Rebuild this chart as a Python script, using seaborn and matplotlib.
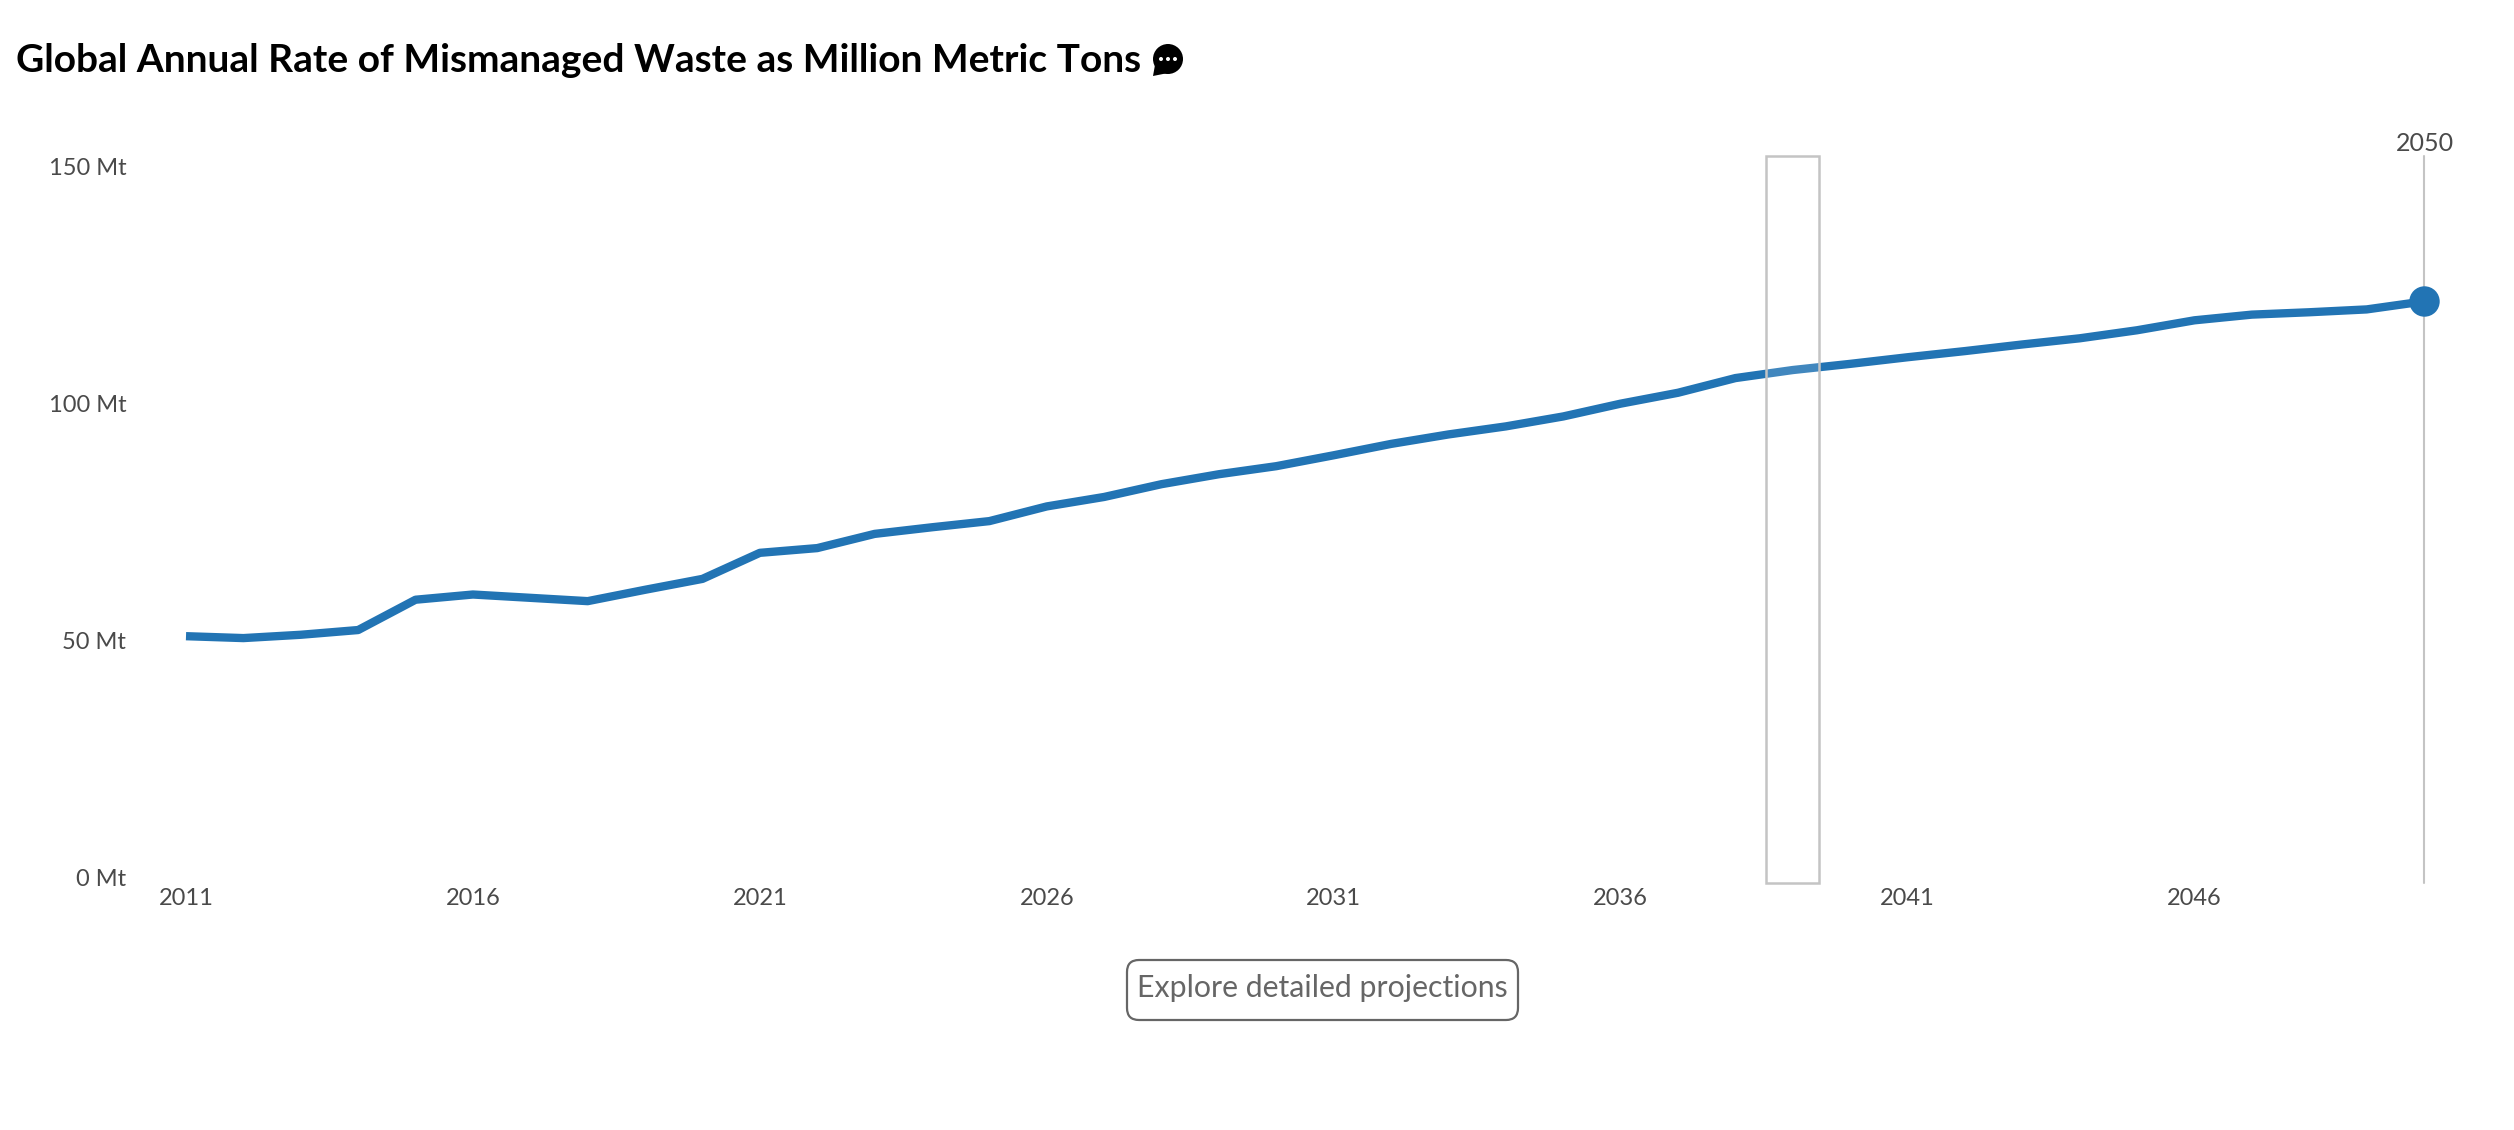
import matplotlib
matplotlib.use('Agg')
import matplotlib.pyplot as plt
from matplotlib.patches import Circle, FancyBboxPatch, Polygon, Rectangle
from matplotlib.transforms import Affine2D, ScaledTranslation
import pandas as pd
import seaborn as sns

# Values
years = list(range(2011, 2051))
waste_mt = [50.5, 50.1, 50.8, 51.8, 58.2, 59.3, 58.6, 57.9, 60.3, 62.6,
            68.1, 69.1, 72.1, 73.5, 74.8, 77.9, 79.9, 82.6, 84.7, 86.4,
            88.7, 91.1, 93.1, 94.8, 96.9, 99.6, 101.9, 105.0, 106.7, 108.0,
            109.4, 110.7, 112.1, 113.4, 115.1, 117.2, 118.4, 118.9, 119.5, 121.2]
x_ticks = [2011, 2016, 2021, 2026, 2031, 2036, 2041, 2046]
y_ticks = [0, 50, 100, 150]
y_labels = ['0 Mt', '50 Mt', '100 Mt', '150 Mt']
title = 'Global Annual Rate of Mismanaged Waste as Million Metric Tons'
button_text = 'Explore detailed projections'
hover_year = (2038.53, 2039.45)

LINE_BLUE = '#2274b4'
GREY = '#c4c4c4'
TEXT = '#4a4a4a'

W, H = 2514, 1130

sns.set_theme(style='white')
plt.rcParams['font.family'] = ['Lato', 'DejaVu Sans']

fig = plt.figure(figsize=(W / 100, H / 100), dpi=100, facecolor='white')
ax = fig.add_axes([186 / W, 1 - 883.4 / H, (2424 - 186) / W, (883.4 - 155.5) / H])

# pixel coordinates measured from the top left, for the page furniture
px = Affine2D().scale(1 / W, -1 / H).translate(0, 1) + fig.transFigure

data = pd.DataFrame({'year': years, 'waste': waste_mt})
sns.lineplot(data=data, x='year', y='waste', color=LINE_BLUE, linewidth=6, ax=ax,
             solid_capstyle='butt', solid_joinstyle='round', clip_on=False, zorder=3)
sns.scatterplot(x=years[-1:], y=waste_mt[-1:], color=LINE_BLUE, s=480, linewidth=0,
                ax=ax, clip_on=False, zorder=4)

ax.set_xlim(2011, 2050)
ax.set_ylim(-1.7, 152)
ax.set_xlabel('')
ax.set_ylabel('')
sns.despine(ax=ax, left=True, bottom=True)

ax.set_xticks(x_ticks)
ax.set_yticks(y_ticks)
ax.set_yticklabels(y_labels)
ax.tick_params(axis='x', length=0, pad=3.5, labelsize=17, labelcolor=TEXT)
ax.tick_params(axis='y', length=0, pad=43, labelsize=17, labelcolor=TEXT)

# y labels sit a touch below their gridline position
nudge = ScaledTranslation(0, -2 / 100, fig.dpi_scale_trans)
for label in ax.get_yticklabels():
    label.set_transform(label.get_transform() + nudge)

# end of series rule and label
ax.axvline(2050, color=GREY, linewidth=1.5, zorder=2, clip_on=False)
ax.text(2050.02, 152, '2050', ha='center', va='bottom', fontsize=18, color=TEXT)

# hover box, washes the line out a little
ax.add_patch(Rectangle((hover_year[0], -1.7), hover_year[1] - hover_year[0], 153.7,
                       facecolor=(1, 1, 1, 0.14), edgecolor=GREY, linewidth=1.8,
                       zorder=5, clip_on=False))

fig.text(16, 60, title, transform=px, fontsize=28, fontweight='bold', color='black',
         ha='left', va='center')

# speech bubble icon after the title
fig.add_artist(Circle((1168, 59), 15, transform=px, facecolor='black', edgecolor='none'))
fig.add_artist(Polygon([(1155, 65), (1153, 76), (1168, 73)], closed=True, transform=px,
                       facecolor='black', edgecolor='none'))
for dot_x in (1161, 1168, 1175):
    fig.add_artist(Circle((dot_x, 59), 2, transform=px, facecolor='white', edgecolor='none'))

# button under the chart
fig.add_artist(FancyBboxPatch((1127, 960), 391, 60, boxstyle='round,pad=0,rounding_size=12',
                              transform=px, facecolor='white', edgecolor='#666666',
                              linewidth=1.6))
fig.text(1322.5, 988, button_text, transform=px, fontsize=21.8, color='#666666',
         ha='center', va='center')

fig.savefig('out.png', dpi=100, facecolor='white')
